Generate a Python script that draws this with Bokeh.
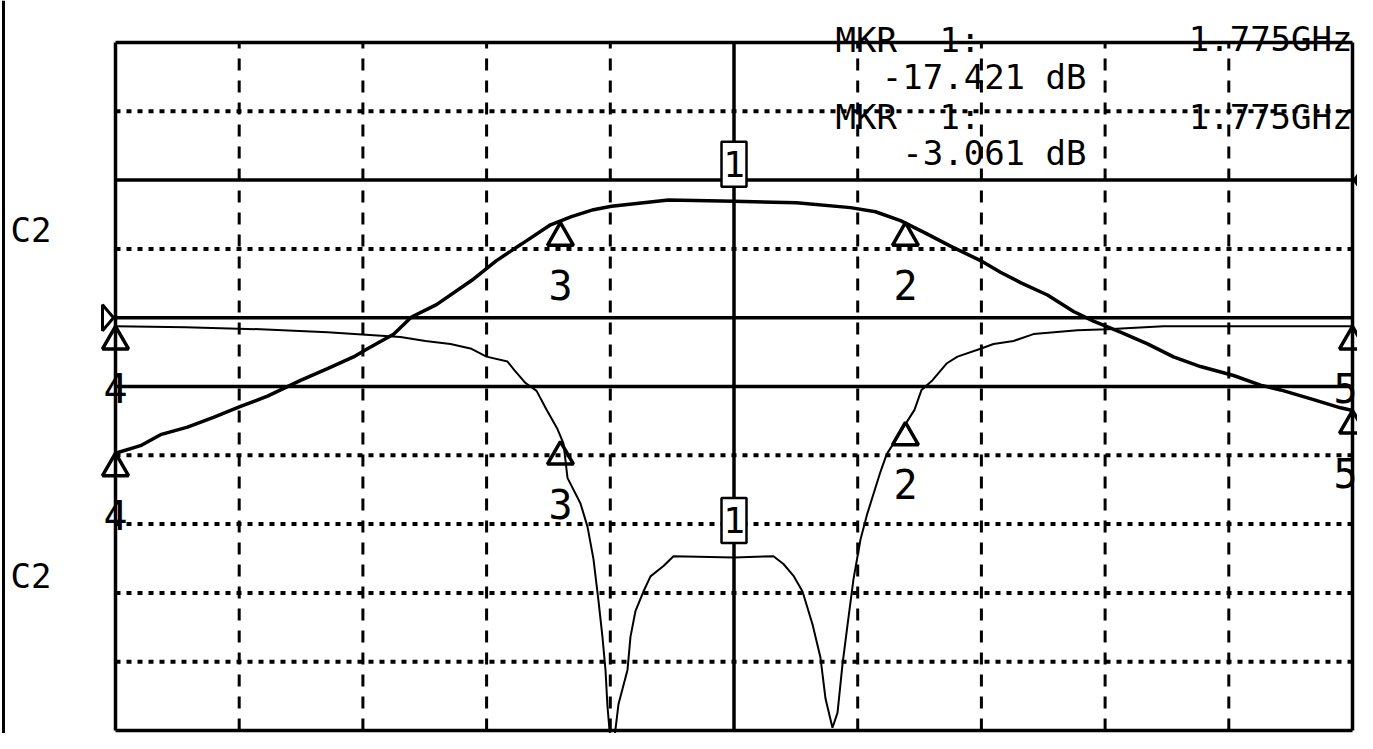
import numpy as np
from bokeh.plotting import figure
from bokeh.models import Range1d
from bokeh.core.properties import value
from bokeh.embed import file_html
from bokeh.resources import INLINE

# ---------------- data (read from the analyzer screen) ----------------
# x in graticule divisions (0..10, centre = 1.775 GHz)
# Trace A (thick): transmission, 10 dB/div, 0 dB reference at division 8
s21_x = [0.000, 0.202, 0.364, 0.582, 0.792, 1.011, 1.229, 1.496, 1.714, 1.924,
         2.037, 2.248, 2.393, 2.595, 2.878, 3.080, 3.282, 3.517, 3.686, 3.864,
         4.010, 4.471, 5.000, 5.505, 5.942, 6.144, 6.346, 6.548, 6.750, 6.993,
         7.154, 7.316, 7.534, 7.745, 7.906, 8.124, 8.343, 8.553, 8.771, 9.038,
         9.256, 9.418, 9.685, 9.903, 10.000]
s21_db = [-39.7, -38.6, -37.0, -35.9, -34.5, -32.9, -31.4, -29.1, -27.4, -25.7,
          -24.5, -22.4, -19.9, -18.1, -14.6, -11.7, -9.3, -6.5, -5.3, -4.3,
          -3.8, -2.9, -3.06, -3.3, -4.0, -4.6, -5.9, -7.7, -9.6, -11.7,
          -13.4, -14.9, -16.7, -19.1, -20.5, -22.1, -23.8, -25.7, -27.1, -28.4,
          -29.8, -30.5, -31.9, -33.1, -33.5]

# Trace B (thin): reflection, 5 dB/div, 0 dB reference at division 6
s11_x = [0.000, 0.566, 1.172, 1.714, 2.304, 2.506, 2.708, 2.878, 2.999, 3.169,
         3.226, 3.315, 3.404, 3.484, 3.573, 3.622, 3.654, 3.759, 3.816, 3.864,
         3.905, 3.937, 3.961, 3.977, 3.994, 4.018, 4.042, 4.066, 4.139, 4.163,
         4.204, 4.268, 4.325, 4.430, 4.511, 5.000, 5.319, 5.400, 5.481, 5.554,
         5.635, 5.699, 5.740, 5.796, 5.837, 5.877, 5.918, 5.966, 6.023, 6.079,
         6.184, 6.233, 6.346, 6.459, 6.516, 6.605, 6.718, 6.807, 6.993, 7.098,
         7.260, 7.421, 7.777, 8.019, 8.472, 10.000]
s11_db = [-0.63, -0.70, -0.84, -1.05, -1.41, -1.69, -1.91, -2.26, -2.83, -3.19,
          -3.83, -4.75, -5.32, -6.67, -8.09, -9.16, -11.64, -13.50, -15.20, -17.55,
          -20.61, -23.24, -25.59, -28.22, -30.0, -31.5, -29.9, -28.1, -25.6, -23.2,
          -21.3, -19.9, -18.8, -18.05, -17.34, -17.42, -17.34, -17.9, -18.76, -19.9,
          -22.3, -24.7, -27.7, -29.8, -28.7, -25.2, -22.3, -19.0, -16.1, -14.2,
          -11.2, -9.95, -8.3, -6.7, -5.25, -4.54, -3.33, -2.83, -2.26, -1.91,
          -1.69, -1.19, -0.91, -0.84, -0.63, -0.63]

marker_ids = ["1", "2", "3", "4", "5"]
marker_x = [5.0, 6.386, 3.597, 0.0, 10.0]
s21_marker_db = [-3.061, -6.2, -6.2, -39.7, -33.5]
s11_marker_db = [-17.421, -7.6, -9.0, -0.63, -0.63]

readout_label = "MKR"
readout_marker = "1:"
readout_freq = "1.775GHz"
readout_s11 = "-17.421 dB"
readout_s21 = "-3.061 dB"
channel_label = "C2"

S21_REF_DIV, S21_SCALE = 8, 10
S11_REF_DIV, S11_SCALE = 6, 5
N_DIV = 10

# ---------------- layout (canvas pixels) ----------------
W, H = 1357, 733
BOX_L, BOX_R = 115, 1352
BOX_T, BOX_B = 42, 730
PXDX = (BOX_R - BOX_L) / N_DIV
PXDY = (BOX_B - BOX_T) / N_DIV
REF_PXDY = 70.2  # vertical pixel pitch of the reference screen


def px2x(px):
    return (px - BOX_L) / PXDX


def py2y(py):
    return N_DIV - (py - BOX_T) / REF_PXDY


x0 = -BOX_L / PXDX
x1 = (W - BOX_L) / PXDX
y1 = N_DIV + BOX_T / PXDY
y0 = N_DIV - (H - BOX_T) / PXDY

p = figure(width=W, height=H, x_range=Range1d(x0, x1), y_range=Range1d(y0, y1),
           output_backend="svg", toolbar_location=None,
           x_axis_location=None, y_axis_location=None,
           min_border=0, outline_line_color=None,
           background_fill_color="white", border_fill_color="white")
p.grid.visible = False
p.extra_y_ranges = {
    "s21": Range1d((y0 - S21_REF_DIV) * S21_SCALE, (y1 - S21_REF_DIV) * S21_SCALE),
    "s11": Range1d((y0 - S11_REF_DIV) * S11_SCALE, (y1 - S11_REF_DIV) * S11_SCALE),
}

FONT = value("DejaVu Sans Mono")

# ---------------- graticule ----------------
divs = list(range(N_DIV + 1))
solid_h = [0, 5, S11_REF_DIV, S21_REF_DIV, N_DIV]
dotted_h = [d for d in divs if d not in solid_h]
solid_v = [0, 5, N_DIV]
dashed_v = [d for d in divs if d not in solid_v]

p.segment(x0=[0] * len(dotted_h), x1=[N_DIV] * len(dotted_h), y0=dotted_h, y1=dotted_h,
          line_color="black", line_width=4, line_dash="5 6")
p.segment(x0=dashed_v, x1=dashed_v, y0=[0] * len(dashed_v), y1=[N_DIV] * len(dashed_v),
          line_color="black", line_width=3, line_dash="12 10")
p.segment(x0=[0] * len(solid_h), x1=[N_DIV] * len(solid_h), y0=solid_h, y1=solid_h,
          line_color="black", line_width=3.5)
p.segment(x0=solid_v, x1=solid_v, y0=[0] * len(solid_v), y1=[N_DIV] * len(solid_v),
          line_color="black", line_width=3.5)

# screen edge line at the far left
p.segment(x0=[px2x(3)], x1=[px2x(3)], y0=[y0], y1=[y1], line_color="black", line_width=3)

# reference-level indicators
p.patch(x=[px2x(102), px2x(113), px2x(102)],
        y=[S11_REF_DIV + 13 / PXDY, S11_REF_DIV, S11_REF_DIV - 13 / PXDY],
        fill_color=None, line_color="black", line_width=3)
p.patch(x=[px2x(1362), px2x(1353), px2x(1362)],
        y=[S21_REF_DIV + 12 / PXDY, S21_REF_DIV, S21_REF_DIV - 12 / PXDY],
        fill_color="black", line_color="black", line_width=2)

# ---------------- traces ----------------
p.line(s21_x, s21_db, y_range_name="s21", line_color="black", line_width=3.5)
p.line(s11_x, s11_db, y_range_name="s11", line_color="black", line_width=2)

# ---------------- markers ----------------
TRI = 26
digit = dict(text_font=FONT, text_font_size=value("40px"), text_align="center",
             text_baseline="alphabetic", text_color="black")
for rng, vals, scale in (("s21", s21_marker_db, S21_SCALE), ("s11", s11_marker_db, S11_SCALE)):
    dbpp = scale / PXDY
    mx = marker_x[1:]
    mv = vals[1:]
    p.scatter(x=mx, y=[v - 0.577 * TRI * dbpp for v in mv], y_range_name=rng,
              marker="triangle", size=TRI, fill_color=None, line_color="black", line_width=3.5)
    # digits under markers 2..4 centred; marker 5 sits on the right edge
    p.text(x=marker_x[1:4], y=vals[1:4], text=marker_ids[1:4], y_range_name=rng,
           y_offset=62, **digit)
    p.text(x=marker_x[4:], y=vals[4:], text=marker_ids[4:], y_range_name=rng,
           y_offset=62, x_offset=-7, **digit)
    # active marker 1: boxed label
    p.rect(x=[marker_x[0]], y=[vals[0] + 37 * dbpp], width=25, height=45,
           width_units="screen", height_units="screen", y_range_name=rng,
           fill_color="white", line_color="black", line_width=2.5)
    p.text(x=[marker_x[0]], y=[vals[0] + 37 * dbpp], text=[marker_ids[0]], y_range_name=rng,
           text_font=FONT, text_font_size=value("36px"), text_align="center",
           text_baseline="middle", text_color="black")

# ---------------- readouts ----------------
txt = dict(text_font=FONT, text_font_size=value("34px"), text_color="black",
           text_baseline="alphabetic")
p.text(x=[px2x(835), px2x(835)], y=[py2y(39), py2y(118)], text=[readout_label] * 2,
       text_align="left", **txt)
p.text(x=[px2x(939), px2x(939)], y=[py2y(39), py2y(118)], text=[readout_marker] * 2,
       text_align="left", **txt)
p.text(x=[px2x(1352), px2x(1352)], y=[py2y(38), py2y(118)], text=[readout_freq] * 2,
       text_align="right", **txt)
p.text(x=[px2x(1086), px2x(1086)], y=[py2y(77), py2y(155)], text=[readout_s11, readout_s21],
       text_align="right", **txt)
p.text(x=[px2x(10), px2x(10)], y=[py2y(233), py2y(586)], text=[channel_label] * 2,
       text_align="left", **txt)

open("out.html", "w").write(file_html(p, INLINE))
